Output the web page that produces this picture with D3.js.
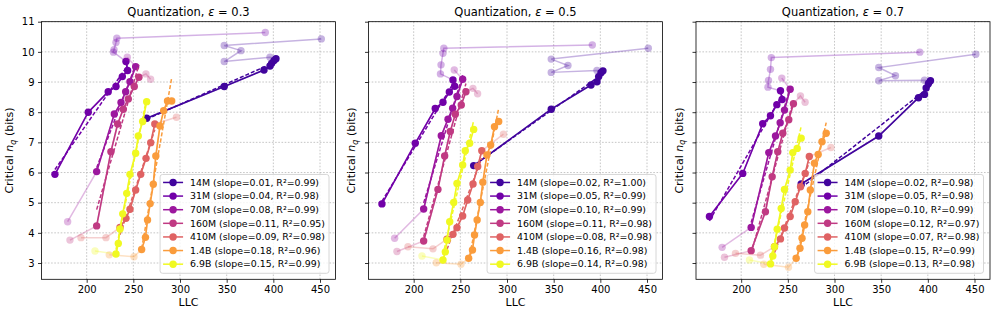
<!DOCTYPE html>
<html>
<head>
<meta charset="utf-8">
<script src="https://cdn.jsdelivr.net/npm/d3@7"></script>
<style>
  body { margin: 0; background: #fff; }
  text { font-family: 'DejaVu Sans', sans-serif; fill: #000; }
</style>
</head>
<body>
<svg id="chart" width="997" height="317"></svg>
<script>
// ---- data ----
const models = ['14M', '31M', '70M', '160M', '410M', '1.4B', '6.9B'];
const epsilons = ['0.3', '0.5', '0.7'];
const xTicks = [200, 250, 300, 350, 400, 450];
const yTicks = [3, 4, 5, 6, 7, 8, 9, 10, 11];

// LLC of every checkpoint, per model (same in the three panels)
const llc = [
  [264.3, 347.4, 390.0, 396.4, 398.2, 400.7, 402.8, 396.4, 347.4, 365.3, 347.4, 451.4],
  [166.0, 201.7, 223.1, 231.4, 238.2, 243.9, 242.1, 228.7, 229.3, 231.4, 232.3, 391.4],
  [179.6, 210.7, 229.6, 236.8, 241.8, 246.4, 252.5, 243.5],
  [182.1, 210.7, 226.0, 233.2, 239.2, 244.6, 251.0, 256.0, 263.5, 268.5],
  [193.9, 220.7, 235.7, 242.1, 246.4, 252.5, 257.9, 263.6, 268.6, 273.0, 296.2],
  [224.2, 250.7, 258.9, 263.0, 265.2, 268.0, 271.4, 274.1, 278.5, 282.5, 286.6, 291.1],
  [208.9, 231.4, 233.9, 235.7, 238.6, 242.9, 246.4, 252.5, 255.3, 260.0, 264.3]
];
// checkpoints used in the fit (inclusive index range); the rest is faded
const fitFirst = [0, 0, 1, 1, 2, 2, 1];
const fitLast = [6, 6, 6, 7, 9, 11, 10];

// critical n_q per checkpoint, for each epsilon
const nq03 = [
  [7.80, 8.85, 9.40, 9.53, 9.62, 9.71, 9.77, 9.82, 9.68, 10.04, 10.21, 10.43],
  [5.94, 8.00, 8.68, 8.85, 9.18, 9.38, 9.68, 9.99, 10.07, 10.31, 10.45, 10.64],
  [4.37, 6.03, 7.94, 8.32, 8.68, 9.01, 9.51, 9.82],
  [3.76, 4.23, 6.69, 7.61, 8.10, 8.44, 8.85, 9.16, 9.27, 9.09],
  [3.84, 3.84, 4.18, 4.48, 4.78, 5.42, 5.94, 6.47, 6.99, 7.61, 7.83],
  [3.27, 3.21, 3.45, 3.85, 4.43, 4.97, 5.61, 6.55, 7.54, 8.05, 8.37, 8.37],
  [3.40, 3.30, 3.65, 4.13, 4.63, 5.31, 5.94, 6.64, 7.21, 7.69, 8.35]
];
const nq05 = [
  [6.23, 8.10, 8.90, 9.01, 9.18, 9.31, 9.37, 9.38, 9.32, 9.55, 9.76, 10.12],
  [4.96, 6.97, 8.12, 8.33, 8.67, 8.86, 9.07, 9.27, 9.57, 9.95, 10.12, 10.23],
  [3.82, 4.79, 7.22, 7.77, 8.13, 8.52, 9.09, 9.40],
  [3.38, 3.73, 5.44, 6.55, 7.36, 7.93, 8.24, 8.68, 8.79, 8.61],
  [3.54, 3.47, 3.79, 3.95, 4.17, 4.56, 5.09, 5.62, 6.20, 6.72, 7.27],
  [3.01, 2.96, 3.16, 3.43, 3.93, 4.43, 5.01, 5.68, 6.58, 6.91, 7.52, 7.69],
  [3.23, 3.10, 3.37, 3.76, 4.37, 5.01, 5.64, 6.25, 6.72, 6.97, 7.43]
];
const nq07 = [
  [5.62, 7.21, 8.48, 8.59, 8.80, 8.95, 9.04, 9.06, 9.04, 9.21, 9.48, 9.92],
  [4.54, 5.97, 7.62, 7.88, 8.25, 8.42, 8.71, 8.83, 9.05, 9.42, 9.81, 9.99],
  [3.52, 4.18, 6.66, 7.21, 7.65, 8.07, 8.76, 9.13],
  [3.19, 3.41, 4.70, 5.86, 6.69, 7.30, 7.75, 8.28, 8.54, 8.33],
  [3.32, 3.26, 3.54, 3.80, 4.16, 4.54, 5.03, 5.53, 5.97, 6.53, 6.83],
  [2.96, 2.86, 3.16, 3.49, 3.82, 4.26, 4.70, 5.42, 6.31, 6.60, 7.02, 7.30],
  [3.10, 2.97, 3.23, 3.54, 4.12, 4.81, 5.44, 6.08, 6.66, 6.80, 7.14]
];

// legend numbers as printed
const slope03 = [0.01, 0.04, 0.08, 0.11, 0.09, 0.18, 0.15];
const r2_03 = [0.99, 0.98, 0.99, 0.95, 0.98, 0.96, 0.99];
const slope05 = [0.02, 0.05, 0.10, 0.11, 0.08, 0.16, 0.14];
const r2_05 = [1.00, 0.99, 0.99, 0.98, 0.98, 0.98, 0.98];
const slope07 = [0.02, 0.05, 0.10, 0.12, 0.07, 0.15, 0.13];
const r2_07 = [0.98, 0.98, 0.99, 0.97, 0.98, 0.99, 0.98];

// ---- layout ----
const panelLeft = [41.5, 368.5, 696];
const plotW = 294;
const plotTop = 21.7, plotBottom = 279.3;
const colorPos = [0.1, 0.215, 0.334, 0.454, 0.59, 0.77, 1.0];
const colors = colorPos.map(t => d3.interpolatePlasma(t));

const nqPanels = [nq03, nq05, nq07];
const slopePanels = [slope03, slope05, slope07];
const r2Panels = [r2_03, r2_05, r2_07];

const svg = d3.select('#chart');

function linFit(xs, ys) {
  const n = xs.length;
  const mx = d3.mean(xs), my = d3.mean(ys);
  let sxy = 0, sxx = 0;
  for (let i = 0; i < n; i++) {
    sxy += (xs[i] - mx) * (ys[i] - my);
    sxx += (xs[i] - mx) * (xs[i] - mx);
  }
  const b = sxy / sxx;
  return { b: b, a: my - b * mx };
}

epsilons.forEach(function(eps, p) {
  const x0 = panelLeft[p];
  const x = d3.scaleLinear().domain([151.6, 466.6]).range([x0, x0 + plotW]);
  const y = d3.scaleLinear().domain([2.46, 11.0]).range([plotBottom, plotTop]);
  const g = svg.append('g');

  // grid
  g.append('g').selectAll('line').data(xTicks).join('line')
    .attr('x1', d => x(d)).attr('x2', d => x(d))
    .attr('y1', plotTop).attr('y2', plotBottom)
    .attr('stroke', '#b8b8b8').attr('stroke-width', 0.8).attr('stroke-dasharray', '1.6,1.6');
  g.append('g').selectAll('line').data(yTicks).join('line')
    .attr('x1', x0).attr('x2', x0 + plotW)
    .attr('y1', d => y(d)).attr('y2', d => y(d))
    .attr('stroke', '#b8b8b8').attr('stroke-width', 0.8).attr('stroke-dasharray', '1.6,1.6');

  // axes
  const xAxis = g.append('g')
    .attr('transform', `translate(0,${plotBottom})`)
    .call(d3.axisBottom(x).tickValues(xTicks).tickSize(3.5).tickPadding(3.5).tickSizeOuter(0));
  const yAxis = g.append('g')
    .attr('transform', `translate(${x0},0)`)
    .call(d3.axisLeft(y).tickValues(yTicks).tickSize(3.5).tickPadding(3.5).tickSizeOuter(0)
      .tickFormat(p === 0 ? d3.format('d') : () => ''));
  [xAxis, yAxis].forEach(a => {
    a.select('.domain').remove();
    a.selectAll('.tick line').attr('stroke', '#000').attr('stroke-width', 0.8);
    a.selectAll('.tick text').attr('font-size', 10).attr('font-family', 'DejaVu Sans');
  });

  const plot = g.append('g');
  const line = d3.line().x(d => x(d[0])).y(d => y(d[1]));

  models.forEach(function(m, s) {
    const pts = llc[s].map((v, i) => [v, nqPanels[p][s][i]]);
    const fitPts = pts.slice(fitFirst[s], fitLast[s] + 1);
    const otherPts = pts.filter((d, i) => i < fitFirst[s] || i > fitLast[s]);
    const c = colors[s];
    const sg = plot.append('g');

    // faded full trajectory
    sg.append('path').attr('d', line(pts)).attr('fill', 'none')
      .attr('stroke', c).attr('stroke-opacity', 0.3).attr('stroke-width', 1.5);
    sg.append('g').selectAll('circle').data(otherPts).join('circle')
      .attr('cx', d => x(d[0])).attr('cy', d => y(d[1])).attr('r', 3.7)
      .attr('fill', c).attr('fill-opacity', 0.3);

    // fitted window
    sg.append('path').attr('d', line(fitPts)).attr('fill', 'none')
      .attr('stroke', c).attr('stroke-width', 1.6);
    sg.append('g').selectAll('circle').data(fitPts).join('circle')
      .attr('cx', d => x(d[0])).attr('cy', d => y(d[1])).attr('r', 3.7)
      .attr('fill', c);

    // linear fit
    const f = linFit(fitPts.map(d => d[0]), fitPts.map(d => d[1]));
    const ext = d3.extent(fitPts, d => d[0]);
    sg.append('path').attr('d', line(ext.map(v => [v, f.a + f.b * v])))
      .attr('fill', 'none').attr('stroke', c).attr('stroke-width', 1.5)
      .attr('stroke-dasharray', '4,2');
  });

  // frame
  g.append('rect').attr('x', x0).attr('y', plotTop)
    .attr('width', plotW).attr('height', plotBottom - plotTop)
    .attr('fill', 'none').attr('stroke', '#000').attr('stroke-width', 0.8);

  // title
  const title = g.append('text').attr('x', x0 + plotW / 2).attr('y', 16)
    .attr('text-anchor', 'middle').attr('font-size', 11.5);
  title.append('tspan').text('Quantization, ');
  title.append('tspan').attr('font-style', 'italic').text('\u03B5');
  title.append('tspan').text(' = ' + eps);

  // axis labels
  g.append('text').attr('x', x0 + plotW / 2).attr('y', 306)
    .attr('text-anchor', 'middle').attr('font-size', 11).text('LLC');
  const yl = g.append('text')
    .attr('transform', `translate(${p === 0 ? 13 : x0 - 13.5},${(plotTop + plotBottom) / 2}) rotate(-90)`)
    .attr('text-anchor', 'middle').attr('font-size', 11);
  yl.append('tspan').text('Critical ');
  yl.append('tspan').attr('font-style', 'italic').text('n');
  yl.append('tspan').attr('font-style', 'italic').attr('font-size', 8).attr('dy', 2.5).text('q');
  yl.append('tspan').attr('dy', -2.5).text(' (bits)');

  // legend
  const leg = g.append('g');
  const box = leg.append('rect').attr('fill', '#fff').attr('fill-opacity', 0.8)
    .attr('stroke', '#cccccc').attr('stroke-width', 0.8).attr('rx', 2.5);
  const rowH = 13.62;
  const items = leg.selectAll('g.item').data(models).join('g').attr('class', 'item');
  items.append('line').attr('x1', 3).attr('x2', 23).attr('stroke', (d, i) => colors[i]).attr('stroke-width', 1.5);
  items.append('circle').attr('cx', 13).attr('r', 3.7).attr('fill', (d, i) => colors[i]);
  items.append('text').attr('x', 30).attr('y', 3.3).attr('font-size', 9.4)
    .text((d, i) => `${d} (slope=${slopePanels[p][i].toFixed(2)}, R\u00B2=${r2Panels[p][i].toFixed(2)})`);
  let maxW = 0;
  items.selectAll('text').each(function() { maxW = Math.max(maxW, this.getComputedTextLength()); });
  const legW = 30 + maxW + 4;
  const legH = rowH * models.length + 3.5;
  const lx = x0 + plotW - 6.5 - legW;
  const ly = plotBottom - 6 - legH;
  box.attr('x', lx).attr('y', ly).attr('width', legW).attr('height', legH);
  items.attr('transform', (d, i) => `translate(${lx},${ly + 8 + i * rowH})`);
});
</script>
</body>
</html>
